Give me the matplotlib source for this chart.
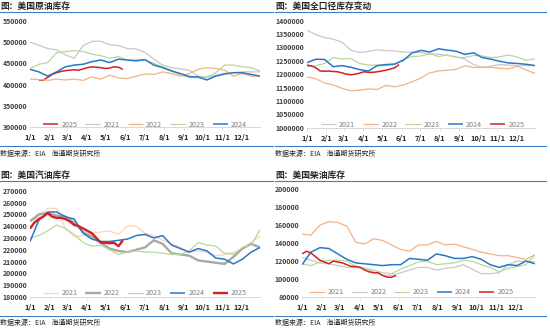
import numpy as np
import matplotlib.pyplot as plt
from matplotlib.lines import Line2D

plt.rcParams['font.family'] = ['Noto Sans CJK SC', 'DejaVu Sans']

W, H = 550, 328

# 双周数据点（年内天数）
days = [0, 14, 28, 42, 56, 70, 84, 98, 112, 126, 140, 154, 168, 182,
        196, 210, 224, 238, 252, 266, 280, 294, 308, 322, 336, 350, 364]
# 2025 周度
days_25 = [0, 7, 14, 21, 28, 35, 42, 49, 56, 63, 70, 77, 84, 91,
           98, 105, 112, 119, 126, 133, 140, 147]
month_days = [0, 31, 59, 90, 120, 151, 181, 212, 243, 273, 304, 334]
month_labels = ['1/1', '2/1', '3/1', '4/1', '5/1', '6/1',
                '7/1', '8/1', '9/1', '10/1', '11/1', '12/1']

# 美国原油库存
crude_2021 = [500000, 493000, 485000, 482000, 470000, 462000, 492000, 502000, 502000,
              494000, 492000, 485000, 484000, 476000, 460000, 446000, 440000, 437000,
              434000, 420000, 417000, 422000, 427000, 428000, 430000, 430000, 430000]
crude_2022 = [413000, 412000, 410000, 413000, 411000, 413000, 410000, 418000, 413000,
              422000, 416000, 414000, 420000, 425000, 424000, 430000, 426000, 420000,
              426000, 436000, 440000, 438000, 434000, 420000, 426000, 420000, 420000]
crude_2023 = [438000, 448000, 452000, 475000, 478000, 480000, 478000, 472000, 468000,
              462000, 466000, 458000, 458000, 458000, 450000, 442000, 434000, 422000,
              417000, 416000, 418000, 428000, 446000, 446000, 442000, 440000, 432000]
crude_2024 = [436000, 430000, 420000, 430000, 442000, 446000, 448000, 454000, 458000,
              452000, 460000, 458000, 456000, 459000, 446000, 440000, 432000, 426000,
              419000, 418000, 411000, 420000, 425000, 428000, 428000, 424000, 420000]
crude_2025 = [np.nan, np.nan, 411000, 410000, 417000, 424000, 428000, 431000, 433000,
              434000, 435000, 434000, 437000, 440000, 442000, 441000, 440000, 438000,
              439000, 442000, 441000, 436000]

# 美国全口径库存变动
total_2021 = [1365000, 1348000, 1337000, 1331000, 1320000, 1290000, 1281000, 1285000, 1291000,
              1288000, 1287000, 1283000, 1282000, 1281000, 1276000, 1275000, 1270000, 1265000,
              1256000, 1236000, 1225000, 1230000, 1236000, 1234000, 1232000, 1232000, 1233000]
total_2022 = [1190000, 1183000, 1167000, 1160000, 1147000, 1138000, 1140000, 1145000, 1143000,
              1158000, 1153000, 1160000, 1172000, 1186000, 1205000, 1212000, 1215000, 1218000,
              1232000, 1225000, 1226000, 1226000, 1222000, 1220000, 1230000, 1216000, 1203000]
total_2023 = [1228000, 1232000, 1240000, 1262000, 1257000, 1259000, 1240000, 1234000, 1234000,
              1232000, 1236000, 1256000, 1266000, 1268000, 1277000, 1266000, 1272000, 1263000,
              1262000, 1270000, 1268000, 1262000, 1265000, 1272000, 1264000, 1252000, 1258000]
total_2024 = [1243000, 1256000, 1255000, 1228000, 1232000, 1226000, 1217000, 1212000, 1232000,
              1236000, 1238000, 1252000, 1280000, 1289000, 1283000, 1295000, 1290000, 1286000,
              1274000, 1280000, 1262000, 1256000, 1248000, 1242000, 1240000, 1237000, 1232000]
total_2025 = [1234000, 1231000, 1224000, 1212000, 1211000, 1212000, 1210000, 1209000, 1205000,
              1200000, 1198000, 1200000, 1204000, 1209000, 1207000, 1207000, 1209000, 1212000,
              1215000, 1219000, 1224000, 1236000]

# 美国汽油库存
gas_2021 = [244000, 248000, 255000, 255000, 238000, 231000, 232000, 234000, 235000,
            236000, 233000, 240000, 240000, 234000, 232000, 228000, 225000, 222000,
            218000, 219000, 218000, 215000, 216000, 218000, 220000, 226000, 232000]
gas_2022 = [244000, 250000, 251000, 249000, 248000, 243000, 235000, 231000, 226000,
            221000, 219000, 218000, 220000, 222000, 228000, 225000, 217000, 216000,
            215000, 211000, 210000, 209000, 208000, 214000, 221000, 225000, 222000]
gas_2023 = [230000, 232000, 236000, 241000, 238000, 233000, 226000, 223000, 224000,
            220000, 216000, 218000, 219000, 218000, 218000, 217000, 216000, 216000,
            219000, 226000, 224000, 223000, 217000, 216000, 222000, 224000, 237000]
gas_2024 = [227000, 245000, 252000, 252000, 248000, 246000, 234000, 229000, 227000,
            227000, 228000, 229000, 232000, 233000, 230000, 232000, 224000, 221000,
            218000, 221000, 219000, 213000, 212000, 208000, 212000, 218000, 222000]
gas_2025 = [238000, 243000, 246000, 248000, 251000, 248000, 247000, 247000, 246000,
            244000, 241000, 240000, 238000, 236000, 234000, 230000, 226000, 226000,
            225500, 226000, 223000, 228000]

# 美国柴油库存
dist_2021 = [150000, 149000, 160000, 164000, 163000, 159000, 141000, 139000, 145000,
             143000, 138000, 133000, 131000, 138000, 138000, 142000, 138000, 139000,
             136000, 133000, 130000, 128000, 126000, 126000, 124000, 122000, 127000]
dist_2022 = [124000, 121000, 118000, 117000, 115000, 113000, 113000, 112000, 108000,
             104000, 104000, 107000, 110000, 113000, 113000, 110000, 112000, 113000,
             116000, 111000, 106000, 106000, 107000, 116000, 120000, 120000, 119000]
dist_2023 = [117000, 115000, 119000, 121000, 121000, 120000, 114000, 112000, 110000,
             107000, 106000, 111000, 115000, 119000, 120000, 116000, 117000, 118000,
             121000, 120000, 116000, 113000, 108000, 112000, 114000, 116000, 127000]
dist_2024 = [116000, 130000, 135000, 134000, 128000, 122000, 118000, 117000, 116000,
             115000, 116000, 116000, 123000, 122000, 121000, 128000, 126000, 123000,
             123000, 125000, 122000, 116000, 113000, 116000, 115000, 120000, 117000]
dist_2025 = [128000, 131000, 129000, 125000, 121000, 119000, 117000, 120000, 119000,
             118000, 116000, 114000, 114000, 113000, 110000, 108000, 107000, 107000,
             104000, 102000, 102000, 104000]

GREY = '#c8c8c8'
ORANGE = '#f4b183'
GREEN = '#b5d89d'
BLUE = '#2878c8'
RED = '#d42020'
PALE = '#fbd3b9'
DGREY = '#a8a8a8'
FRAME = '#3b7fc4'

fig = plt.figure(figsize=(W / 100, H / 100), dpi=100)


def hline(x0, x1, y, color=FRAME, lw=0.8):
    fig.add_artist(Line2D([x0 / W, x1 / W], [1 - y / H, 1 - y / H], color=color, lw=lw))


def panel(box, title, series, ylim, ystep, leg_x, leg_y, hdr):
    left, top, right, bottom = box
    x0, x1, y_title, y_line, y_bot, y_src = hdr
    fig.text(x0 / W, 1 - y_title / H, title, fontsize=6.3, fontweight='bold',
             color='#262626', va='center', ha='left')
    hline(x0, x1, y_line)
    hline(x0, x1, y_bot)
    fig.text(x0 / W, 1 - y_src / H, '数据来源：EIA    海通期货研究所', fontsize=5,
             color='#262626', va='center', ha='left')

    ax = fig.add_axes([left / W, 1 - bottom / H, (right - left) / W, (bottom - top) / H])
    for label, xs, vals, color, lw in series:
        ax.plot(xs, vals, color=color, lw=lw, label=label, solid_capstyle='butt')
    ax.set_xlim(0, 364)
    ax.set_ylim(*ylim)
    yt = np.arange(ylim[0], ylim[1] + 1, ystep)
    ax.set_yticks(yt, [str(int(v)) for v in yt])
    ax.set_xticks(month_days, month_labels)
    for s in ['top', 'right', 'left']:
        ax.spines[s].set_visible(False)
    ax.spines['bottom'].set_color('#d9d9d9')
    ax.spines['bottom'].set_linewidth(0.7)
    ax.tick_params(axis='x', length=2, width=0.5, color='#d9d9d9', labelsize=5.3,
                   labelcolor='#262626', pad=3)
    ax.tick_params(axis='y', length=0, labelsize=5, labelcolor='#404040', pad=2)
    for t in ax.get_xticklabels() + ax.get_yticklabels():
        t.set_fontweight('bold')
    ax.set_facecolor('none')
    ax.legend(loc='center', bbox_to_anchor=(leg_x, leg_y), ncol=5, frameon=False,
              fontsize=5.2, handlelength=2.1, handletextpad=0.45, columnspacing=1.1,
              borderpad=0, labelcolor='#7f7f7f')
    return ax


panel((30, 21, 260, 127), '图：美国原油库存',
      [('2025', days_25, crude_2025, RED, 1.1),
       ('2021', days, crude_2021, GREY, 0.9),
       ('2022', days, crude_2022, ORANGE, 0.9),
       ('2023', days, crude_2023, GREEN, 0.9),
       ('2024', days, crude_2024, BLUE, 1.1)],
      (300000, 550000), 50000, 0.5, 0.02, (0, 273, 6.5, 12, 146, 154))

panel((307, 20.7, 535, 127.7), '图：美国全口径库存变动',
      [('2021', days, total_2021, GREY, 0.9),
       ('2022', days, total_2022, ORANGE, 0.9),
       ('2023', days, total_2023, GREEN, 0.9),
       ('2024', days, total_2024, BLUE, 1.1),
       ('2025', days_25, total_2025, RED, 1.1)],
      (1000000, 1400000), 50000, 0.507, 0.025, (275, 546, 6.5, 12, 146, 154))

panel((30, 190.7, 260, 297), '图：美国汽油库存',
      [('2021', days, gas_2021, PALE, 0.9),
       ('2022', days, gas_2022, DGREY, 1.7),
       ('2023', days, gas_2023, GREEN, 0.9),
       ('2024', days, gas_2024, BLUE, 1.1),
       ('2025', days_25, gas_2025, RED, 1.7)],
      (180000, 270000), 10000, 0.5, 0.035, (0, 273, 175.5, 181, 316, 322.5))

panel((302, 189.3, 535, 297), '图：美国柴油库存',
      [('2021', days, dist_2021, ORANGE, 0.9),
       ('2022', days, dist_2022, GREY, 0.9),
       ('2023', days, dist_2023, GREEN, 0.9),
       ('2024', days, dist_2024, BLUE, 1.1),
       ('2025', days_25, dist_2025, RED, 1.1)],
      (80000, 200000), 20000, 0.47, 0.044, (275, 546, 175.5, 181, 316, 322.5))

fig.savefig('out.png', dpi=100)
